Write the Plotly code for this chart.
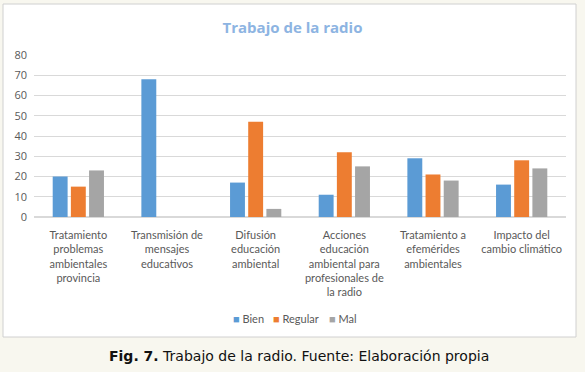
import plotly.graph_objects as go

categories = [
    "Tratamiento<br>problemas<br>ambientales<br>provincia",
    "Transmisión de<br>mensajes<br>educativos",
    "Difusión<br>educación<br>ambiental",
    "Acciones<br>educación<br>ambiental para<br>profesionales de<br>la radio",
    "Tratamiento a<br>efemérides<br>ambientales",
    "Impacto del<br>cambio climático",
]
bien = [20, 68, 17, 11, 29, 16]
regular = [15, 0, 47, 32, 21, 28]
mal = [23, 0, 4, 25, 18, 24]
y_ticks = [0, 10, 20, 30, 40, 50, 60, 70, 80]

series_names = ["Bien", "Regular", "Mal"]
series_vals = [bien, regular, mal]
series_colors = ["#5b9bd5", "#ed7d31", "#a5a5a5"]

fig = go.Figure()
for name, vals, col in zip(series_names, series_vals, series_colors):
    fig.add_trace(go.Bar(x=categories, y=vals, name=name, marker_color=col, marker_line_width=0))

font_main = "Open Sans, Noto Sans, DejaVu Sans, sans-serif"
font_lbl = "Lato, Open Sans, sans-serif"

L, PW = 34, 532
Z, PH = 217, 162

fig.update_layout(
    width=585, height=372,
    paper_bgcolor="#f8f7ef",
    plot_bgcolor="white",
    margin=dict(l=L, r=585 - L - PW, t=55, b=372 - Z),
    barmode="group",
    bargap=0.385,
    bargroupgap=0.18,
    font=dict(family=font_lbl, size=11, color="#595959"),
    showlegend=False,
    title=dict(text="<b>Trabajo de la radio</b>", x=0.5, xanchor="center", y=1 - 28 / 372, yanchor="middle",
               font=dict(family=font_main, size=15, color="#8db4e2")),
)
fig.update_yaxes(range=[0, 80], tickvals=y_ticks, showgrid=True, gridcolor="#d9d9d9", gridwidth=1,
                 zeroline=True, zerolinecolor="#d9d9d9", showline=False, ticks="",
                 tickfont=dict(family=font_main, size=11, color="#595959"), ticklabelstandoff=6)
fig.update_xaxes(showline=False, ticks="", tickfont=dict(family=font_lbl, size=11, color="#595959"),
                 tickangle=0, ticklabelstandoff=10)

# white chart box
fig.add_shape(type="rect", xref="paper", yref="paper",
              x0=(3 - L) / PW, x1=(576 - L) / PW, y0=-(337 - Z) / PH, y1=(Z - 4) / PH,
              fillcolor="white", line=dict(color="#d0d0d0", width=1), layer="below")

# legend (series name + colour key)
legend_px = [231, 271, 327]
for name, col, px in zip(series_names, series_colors, legend_px):
    fig.add_annotation(text=f"<span style='color:{col}'>■</span> {name}",
                       xref="paper", yref="paper", x=(px - L) / PW, y=-(318 - Z) / PH,
                       xanchor="left", yanchor="middle", showarrow=False,
                       font=dict(family=font_lbl, size=11, color="#595959"))

fig.add_annotation(text="<b>Fig. 7.</b> Trabajo de la radio. Fuente: Elaboración propia",
                   xref="paper", yref="paper", x=(299 - L) / PW, y=-(356 - Z) / PH,
                   xanchor="center", yanchor="middle", showarrow=False,
                   font=dict(family="DejaVu Sans, Verdana, sans-serif", size=14, color="#111111"))

fig.write_html("out.html", config={"displayModeBar": False},
               post_script="document.body.style.margin='0';document.body.style.overflow='hidden';")
